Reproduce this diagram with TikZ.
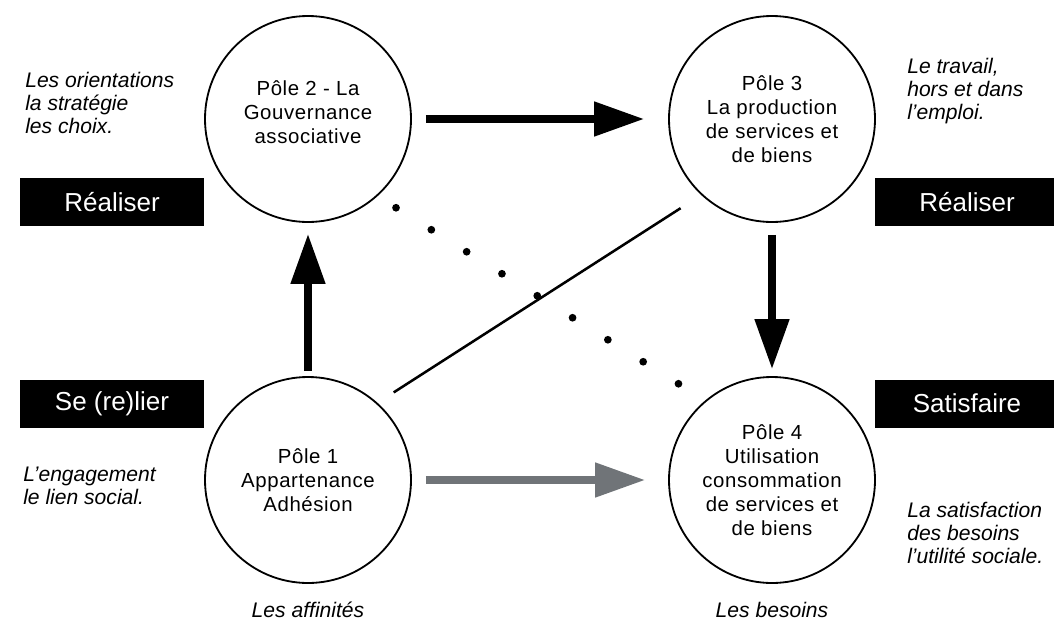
\documentclass[tikz,border=0pt]{standalone}
\usepackage{fontspec}
\setmainfont{Liberation Sans}
\definecolor{arrowgrey}{RGB}{112,116,120}
\usetikzlibrary{arrows.meta, positioning}

\begin{document}
\begin{tikzpicture}[
  pole/.style={circle, draw, line width=1.3pt, minimum size=5.15cm, inner sep=0pt, align=center, font=\fontsize{14.5}{17}\selectfont\addfontfeature{LetterSpace=3}},
  tag/.style={fill=black, text=white, inner sep=0pt, minimum width=4.6cm, minimum height=1.2cm, font=\fontsize{18.5}{20}\selectfont},
  note/.style={align=left, inner sep=0pt, font=\fontsize{15}{16.5}\selectfont\itshape},
  flow/.style={line width=5.2pt, -{Triangle[length=1.25cm, width=0.83cm]}},
]
  \useasboundingbox (0,0) rectangle (26.35,-15.525);

  % Poles
  \node[pole] (p2) at (7.7,-2.975) {Pôle 2 - La\\Gouvernance\\associative\\[-7pt]~};
  \node[pole] (p3) at (19.3,-2.975) {Pôle 3\\La production\\de services et\\de biens};
  \node[pole] (p1) at (7.7,-12.0) {Pôle 1\\Appartenance\\Adhésion};
  \node[pole] (p4) at (19.3,-12.0) {Pôle 4\\Utilisation\\consommation\\de services et\\de biens};

  % Black tags
  \node[tag] (realiserL) at (2.8,-5.04) {Réaliser};
  \node[tag] (relier) at (2.8,-10.09) {Se (re)lier};
  \node[tag] (realiserR) at (24.175,-5.04) {Réaliser};
  \node[tag] (satisfaire) at (24.175,-10.09) {Satisfaire};

  % Notes
  \node[note, anchor=north west] (orient) at (0.625,-1.8) {Les orientations\\la stratégie\\les choix.};
  \node[note, anchor=north west] (travail) at (22.675,-1.45) {Le travail,\\hors et dans\\l'emploi.};
  \node[note, anchor=north west] (engage) at (0.575,-11.675) {L'engagement\\le lien social.};
  \node[note, anchor=north west] (satisf) at (22.675,-12.55) {La satisfaction\\des besoins\\l'utilité sociale.};
  \node[note, below=0.45cm of p1] (affin) {Les affinités};
  \node[note, below=0.45cm of p4] (besoins) {Les besoins};

  % Arrows
  \draw[flow, shorten <=0.35cm, shorten >=0.6cm] (p2) -- (p3);
  \draw[flow, shorten <=0.125cm, shorten >=0.275cm] (p1) -- (p2);
  \draw[flow, shorten <=0.3cm, shorten >=0.175cm] (p3) -- (p4);
  \draw[flow, arrowgrey, shorten <=0.35cm, shorten >=0.575cm] (p1) -- (p4);

  % Diagonals
  \draw[line width=1.8pt, shorten <=0.48cm, shorten >=0.61cm] (p1.48) -- (p3.227);
  \draw[line width=5.5pt, line cap=round, dash pattern=on 0pt off 1.04cm, shorten <=0.545cm, shorten >=0.75cm] (p2.-48) -- (p4.130);
\end{tikzpicture}
\end{document}
